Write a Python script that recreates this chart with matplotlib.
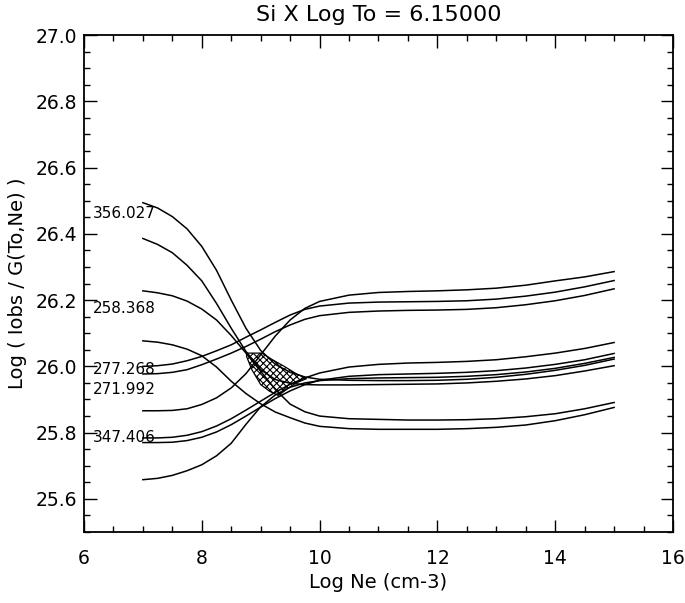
import matplotlib
matplotlib.use('Agg')
import matplotlib.pyplot as plt
from matplotlib.patches import Polygon
from matplotlib.ticker import MultipleLocator, FormatStrFormatter

log_ne = [7.0, 7.25, 7.5, 7.75, 8.0, 8.25, 8.5, 8.75, 9.0, 9.25, 9.5, 9.75,
          10.0, 10.5, 11.0, 11.5, 12.0, 12.5, 13.0, 13.5, 14.0, 14.5, 15.0]

# Log( Iobs / G(To,Ne) ) for each line
c1 = [26.494, 26.478, 26.452, 26.415, 26.362, 26.290, 26.200, 26.115, 26.048, 26.006, 25.982, 25.968,
      25.961, 25.958, 25.957, 25.957, 25.958, 25.961, 25.967, 25.976, 25.988, 26.003, 26.022]
c2 = [26.386, 26.368, 26.343, 26.305, 26.258, 26.190, 26.115, 26.045, 25.990, 25.960, 25.949, 25.945,
      25.944, 25.944, 25.945, 25.946, 25.947, 25.950, 25.955, 25.962, 25.972, 25.986, 26.002]
c3 = [26.228, 26.222, 26.213, 26.197, 26.173, 26.140, 26.093, 26.040, 25.985, 25.930, 25.886, 25.863,
      25.850, 25.842, 25.840, 25.838, 25.838, 25.839, 25.842, 25.848, 25.857, 25.872, 25.891]
c4 = [26.077, 26.073, 26.065, 26.052, 26.032, 25.998, 25.955, 25.918, 25.887, 25.862, 25.845, 25.829,
      25.819, 25.812, 25.810, 25.810, 25.810, 25.812, 25.816, 25.823, 25.836, 25.854, 25.876]
c5 = [26.000, 26.002, 26.007, 26.017, 26.030, 26.047, 26.065, 26.088, 26.110, 26.133, 26.155, 26.172,
      26.182, 26.191, 26.194, 26.195, 26.196, 26.198, 26.203, 26.212, 26.224, 26.240, 26.259]
c6 = [25.977, 25.978, 25.982, 25.990, 26.005, 26.022, 26.040, 26.060, 26.082, 26.105, 26.125, 26.142,
      26.153, 26.163, 26.167, 26.169, 26.170, 26.172, 26.177, 26.186, 26.198, 26.214, 26.234]
c7 = [25.866, 25.866, 25.867, 25.872, 25.885, 25.905, 25.935, 25.978, 26.035, 26.092, 26.140, 26.175,
      26.196, 26.215, 26.223, 26.226, 26.228, 26.231, 26.236, 26.245, 26.258, 26.270, 26.286]
c8 = [25.784, 25.784, 25.786, 25.792, 25.803, 25.820, 25.842, 25.868, 25.895, 25.922, 25.946, 25.965,
      25.980, 25.998, 26.006, 26.010, 26.012, 26.015, 26.020, 26.029, 26.040, 26.054, 26.072]
c9 = [25.770, 25.770, 25.771, 25.776, 25.786, 25.802, 25.824, 25.850, 25.877, 25.903, 25.926, 25.945,
      25.958, 25.970, 25.975, 25.977, 25.979, 25.982, 25.987, 25.995, 26.006, 26.020, 26.039]
c10 = [25.658, 25.662, 25.671, 25.685, 25.703, 25.730, 25.768, 25.825, 25.878, 25.914, 25.937, 25.950,
       25.957, 25.963, 25.965, 25.966, 25.967, 25.970, 25.975, 25.983, 25.994, 26.009, 26.027]
curves = [c1, c2, c3, c4, c5, c6, c7, c8, c9, c10]

# region where the curves overlap (hatched)
hatch_ne = [8.76, 9.02, 9.2, 9.4, 9.6, 9.78, 9.6, 9.45, 9.3, 9.15, 9.0, 8.85, 8.76]
hatch_val = [26.04, 26.04, 26.02, 26.0, 25.978, 25.963, 25.95, 25.932, 25.912, 25.925, 25.945, 25.99, 26.03]

# wavelength labels on the left
wl_labels = ['356.027', '258.368', '277.268', '271.992', '347.406']
wl_y = [26.461, 26.174, 25.992, 25.931, 25.785]

plt.rcParams['hatch.linewidth'] = 0.8

fig = plt.figure(figsize=(6.85, 6.03), dpi=100)
ax = fig.add_axes([0.1226, 0.1177, 0.8599, 0.8242])

for c in curves:
    ax.plot(log_ne, c, color='black', lw=1.1)

poly = Polygon(list(zip(hatch_ne, hatch_val)), closed=True, facecolor='none',
               edgecolor='black', lw=0.9, hatch='xxxxx')
ax.add_patch(poly)

for lab, y in zip(wl_labels, wl_y):
    ax.text(6.15, y, lab, fontsize=11, va='center', ha='left')

ax.set_xlim(6, 16)
ax.set_ylim(25.5, 27.0)
ax.xaxis.set_major_locator(MultipleLocator(2))
ax.xaxis.set_minor_locator(MultipleLocator(0.5))
ax.yaxis.set_major_locator(MultipleLocator(0.2))
ax.yaxis.set_minor_locator(MultipleLocator(0.05))
ax.yaxis.set_major_formatter(FormatStrFormatter('%.1f'))
ax.tick_params(which='both', direction='in', top=True, right=True, width=1.0)
ax.tick_params(which='major', length=9, labelsize=13.5)
ax.tick_params(axis='y', which='major', pad=5)
ax.tick_params(axis='x', which='major', pad=12)
ax.tick_params(which='minor', length=4.5)
for s in ax.spines.values():
    s.set_linewidth(1.3)

ax.set_title('Si X Log To = 6.15000', fontsize=16, pad=10)
ax.set_xlabel('Log Ne (cm-3)', fontsize=14, labelpad=4)
ax.set_ylabel('Log ( Iobs / G(To,Ne) )', fontsize=14, labelpad=6)

fig.savefig('out.png', dpi=100)
